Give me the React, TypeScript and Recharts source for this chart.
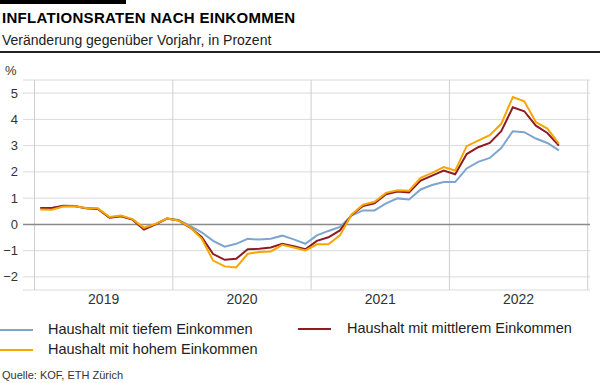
import React from "react";
import { LineChart, Line, XAxis, YAxis, CartesianGrid, ReferenceLine } from "recharts";

const months: number[] = Array.from({ length: 46 }, (_, i) => i);
const yearLabels = ["2019", "2020", "2021", "2022"];
const yearBoundaries = [0, 12, 24, 36, 48];
const yTicks = [-2, -1, 0, 1, 2, 3, 4, 5];

const tief = [
  0.62, 0.62, 0.7, 0.69, 0.61, 0.6, 0.26, 0.32, 0.19, -0.15, 0.01, 0.22,
  0.17, -0.06, -0.3, -0.63, -0.85, -0.74, -0.55, -0.58, -0.55, -0.43, -0.57, -0.74,
  -0.42, -0.25, -0.1, 0.33, 0.53, 0.53, 0.8, 0.99, 0.95, 1.33, 1.5, 1.61,
  1.61, 2.13, 2.38, 2.53, 2.91, 3.55, 3.51, 3.27, 3.1, 2.82,
];
const mittel = [
  0.62, 0.62, 0.71, 0.7, 0.61, 0.59, 0.25, 0.31, 0.18, -0.2, 0.0, 0.22,
  0.15, -0.12, -0.48, -1.13, -1.35, -1.31, -0.95, -0.93, -0.88, -0.74, -0.83, -0.95,
  -0.63, -0.49, -0.23, 0.35, 0.7, 0.8, 1.15, 1.25, 1.22, 1.67, 1.86, 2.05,
  1.91, 2.68, 2.94, 3.1, 3.55, 4.46, 4.31, 3.76, 3.48, 3.0,
];
const hoch = [
  0.57, 0.56, 0.68, 0.69, 0.62, 0.61, 0.28, 0.34, 0.2, -0.13, 0.02, 0.22,
  0.15, -0.11, -0.54, -1.38, -1.6, -1.64, -1.12, -1.05, -1.03, -0.78, -0.88, -0.99,
  -0.76, -0.76, -0.42, 0.37, 0.75, 0.86, 1.2, 1.3, 1.28, 1.77, 1.96, 2.18,
  2.05, 2.98, 3.19, 3.4, 3.83, 4.85, 4.69, 3.9, 3.65, 3.08,
];

const BLUE = "#7ea6cc";
const RED = "#8e1c22";
const ORANGE = "#f7a600";

const data = months.map((m, i) => ({
  x: m + 0.5,
  tief: tief[i],
  mittel: mittel[i],
  hoch: hoch[i],
}));

const font = "'Liberation Sans', Arial, Helvetica, sans-serif";

export default function App() {
  return (
    <div
      style={{
        position: "absolute",
        left: 0,
        top: 0,
        width: 600,
        height: 383,
        background: "#fff",
        fontFamily: font,
        overflow: "hidden",
      }}
    >
      <div style={{ position: "absolute", left: 0, top: 0, width: 126, height: 4, background: "#000" }} />
      <div
        style={{
          position: "absolute",
          left: 2,
          top: 9,
          fontSize: 15,
          fontWeight: "bold",
          letterSpacing: 0.3,
          color: "#000",
          whiteSpace: "nowrap",
        }}
      >
        INFLATIONSRATEN NACH EINKOMMEN
      </div>
      <div
        style={{
          position: "absolute",
          left: 2,
          top: 32,
          fontSize: 14,
          color: "#222",
          whiteSpace: "nowrap",
        }}
      >
        Veränderung gegenüber Vorjahr, in Prozent
      </div>
      <div style={{ position: "absolute", left: 0, top: 51, width: 600, height: 1.5, background: "#222" }} />
      <div style={{ position: "absolute", left: 5, top: 63, fontSize: 13, color: "#333" }}>%</div>

      <div style={{ position: "absolute", left: 0, top: 0 }}>
        <LineChart width={600} height={310} data={data} margin={{ top: 80, right: 10, left: 0, bottom: 0 }}>
          <CartesianGrid vertical={false} stroke="#dadada" strokeWidth={1} />
          <XAxis
            dataKey="x"
            type="number"
            domain={[-1, 48.2]}
            ticks={[6, 18, 30, 42]}
            tickFormatter={(v: number) => yearLabels[Math.floor(v / 12)]}
            axisLine={false}
            tickLine={false}
            tickSize={0}
            tickMargin={4}
            height={20}
            tick={{ fill: "#333", fontSize: 14, fontFamily: font }}
            allowDataOverflow
          />
          <YAxis
            type="number"
            domain={[-2.5, 5.5]}
            ticks={yTicks}
            width={23}
            axisLine={false}
            tickLine={false}
            tickSize={0}
            tickMargin={5}
            tickFormatter={(v: number) => String(v).replace("-", "\u2212")}
            tick={{ fill: "#333", fontSize: 13, fontFamily: font }}
            allowDataOverflow
          />
          {yearBoundaries.map((b) => (
            <ReferenceLine key={b} x={b} stroke="#cfcfcf" strokeWidth={1} />
          ))}
          <ReferenceLine y={0} stroke="#8a8a8a" strokeWidth={1.5} />
          <Line type="linear" dataKey="tief" stroke={BLUE} strokeWidth={2} dot={false} isAnimationActive={false} />
          <Line type="linear" dataKey="mittel" stroke={RED} strokeWidth={2} dot={false} isAnimationActive={false} />
          <Line type="linear" dataKey="hoch" stroke={ORANGE} strokeWidth={2} dot={false} isAnimationActive={false} />
        </LineChart>
      </div>

      <div style={{ position: "absolute", left: 0, top: 329, width: 33, height: 2, background: BLUE }} />
      <div style={{ position: "absolute", left: 48, top: 321, fontSize: 14.5, color: "#222", whiteSpace: "nowrap" }}>
        Haushalt mit tiefem Einkommen
      </div>
      <div style={{ position: "absolute", left: 298, top: 328, width: 33, height: 2, background: RED }} />
      <div style={{ position: "absolute", left: 347, top: 320, fontSize: 14.5, color: "#222", whiteSpace: "nowrap" }}>
        Haushalt mit mittlerem Einkommen
      </div>
      <div style={{ position: "absolute", left: 0, top: 349, width: 33, height: 2, background: ORANGE }} />
      <div style={{ position: "absolute", left: 48, top: 341, fontSize: 14.5, color: "#222", whiteSpace: "nowrap" }}>
        Haushalt mit hohem Einkommen
      </div>
      <div style={{ position: "absolute", left: 2, top: 369, fontSize: 11, color: "#333", whiteSpace: "nowrap" }}>
        Quelle: KOF, ETH Zürich
      </div>
    </div>
  );
}
